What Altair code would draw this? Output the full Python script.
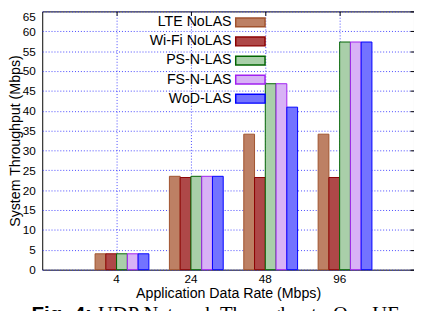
import altair as alt
import pandas as pd

# ---- data ----
rates = ["4", "24", "48", "96"]
series = ["LTE NoLAS", "Wi-Fi NoLAS", "PS-N-LAS", "FS-N-LAS", "WoD-LAS"]
lte_nolas = [4.0, 23.5, 34.1, 34.1]
wifi_nolas = [4.0, 23.2, 23.2, 23.2]
ps_n_las = [4.0, 23.5, 46.8, 57.3]
fs_n_las = [4.0, 23.5, 46.8, 57.3]
wod_las = [4.0, 23.5, 40.9, 57.3]
y_ticks = list(range(0, 66, 5))
x_title = "Application Data Rate (Mbps)"
y_title = "System Throughput (Mbps)"
caption_bold = ["Fig. 4:"]
caption_rest = ["UDP Network Throughput : One UE"]

# ---- styles ----
fills = ["#bd8064", "#ae4848", "#a9cfa9", "#d8b2f6", "#7373ff"]
strokes = ["#a0522d", "#8b0000", "#006400", "#a020f0", "#0000ff"]
FONT = "Liberation Sans"
GRID = "#3030ff"

values = [lte_nolas, wifi_nolas, ps_n_las, fs_n_las, wod_las]
rows = [
    {"rate": r, "series": s, "value": v[i]}
    for s, v in zip(series, values)
    for i, r in enumerate(rates)
]
df = pd.DataFrame(rows)

W, H = 380, 264
pin = 10 / 76
xscale = alt.Scale(type="band", domain=rates, paddingInner=pin, paddingOuter=(1 + pin) / 2)
yscale = alt.Scale(domain=[0, 65], nice=False, zero=True)

bars = alt.Chart(df).mark_bar(strokeWidth=1).encode(
    x=alt.X(
        "rate:N", scale=xscale, sort=rates,
        axis=alt.Axis(title=x_title, labelAngle=0, grid=True, bandPosition=0.5,
                      ticks=False, domain=False, labelPadding=4, titlePadding=2),
    ),
    xOffset=alt.XOffset("series:N", scale=alt.Scale(domain=[" "] + series, paddingInner=0, paddingOuter=0)),
    y=alt.Y(
        "value:Q", scale=yscale,
        axis=alt.Axis(title=y_title, values=y_ticks, grid=True, ticks=False, domain=False,
                      labelPadding=7, titlePadding=0,
                      labelBaseline={"condition": {"test": "datum.value == 65", "value": "top"}, "value": "middle"}),
    ),
    fill=alt.Fill(
        "series:N", scale=alt.Scale(domain=series, range=fills),
        legend=alt.Legend(title=None, orient="none", legendX=205.5, legendY=4,
                          symbolType="M-3.33,-1H3.33V1H-3.33Z", symbolSize=81,
                          labelAlign="right", labelOffset={"expr": "-26.5"}, labelFontSize=14.5,
                          labelFont=FONT, labelColor="black", rowPadding=3.5,
                          symbolStrokeWidth=1.5, padding=0, labelLimit=0),
    ),
    stroke=alt.Stroke("series:N", scale=alt.Scale(domain=series, range=strokes)),
)

mirror = alt.Chart(df).mark_point(opacity=0).encode(
    x=alt.X("rate:N", scale=xscale, sort=rates,
            axis=alt.Axis(orient="top", labels=False, title=None, domain=False, grid=False,
                          ticks=True, tickSize=4, offset=-4, bandPosition=0.5, tickColor="black")),
    y=alt.Y("value:Q", scale=yscale,
            axis=alt.Axis(orient="right", labels=False, title=None, domain=False, grid=False,
                          values=y_ticks, ticks=True, tickSize=4, offset=-4, tickColor="black")),
)

cap1 = alt.Chart(pd.DataFrame({"t": caption_bold})).mark_text(
    font=FONT, fontSize=21, fontWeight="bold", align="left", baseline="alphabetic", color="black"
).encode(text="t:N", x=alt.value(-11), y=alt.value(316))

cap2 = alt.Chart(pd.DataFrame({"t": caption_rest})).mark_text(
    font="Liberation Serif", fontSize=21, align="left", baseline="alphabetic", color="black"
).encode(text="t:N", x=alt.value(57), y=alt.value(316))

chart = alt.layer(bars, mirror, cap1, cap2).resolve_scale(
    x="independent", y="independent"
).properties(
    width=W, height=H,
    autosize=alt.AutoSizeParams(type="none"),
    padding={"left": 35, "top": 0, "right": 0, "bottom": 50},
).configure_view(
    stroke="black", strokeWidth=1
).configure_axis(
    labelFont=FONT, labelFontSize=12, labelColor="black",
    titleFont=FONT, titleFontSize=14.5, titleFontWeight="normal", titleColor="black",
    gridColor=GRID, gridDash=[1, 2], gridWidth=1, gridOpacity=0.9,
)

chart.save("out.html", embed_options={"renderer": "svg", "actions": False})
